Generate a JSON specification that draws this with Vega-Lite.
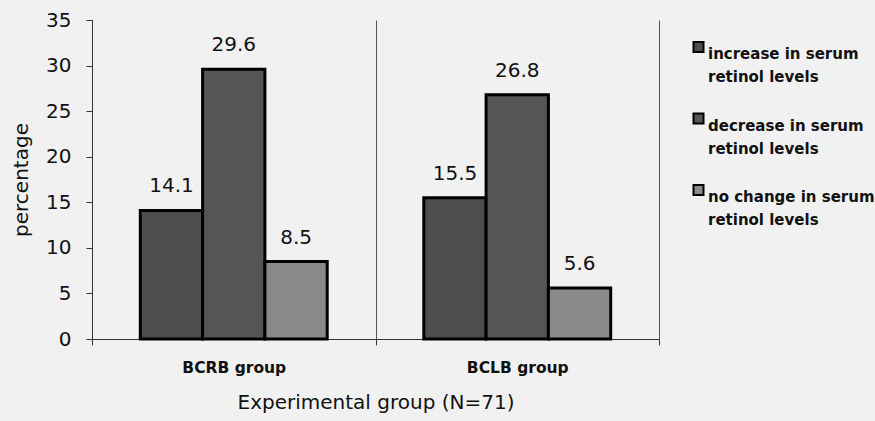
{
  "$schema": "https://vega.github.io/schema/vega-lite/v6.json",
  "width": 567,
  "height": 319,
  "autosize": {"type": "none"},
  "padding": {"left": 92, "top": 20, "right": 216, "bottom": 82},
  "background": "#f1f1f1",
  "config": {
    "view": {"stroke": null},
    "font": "DejaVu Sans",
    "style": {"guide-label": {"lineHeight": 23}}
  },
  "data": {
    "values": [
      {"group": "BCRB group", "change": "increase in serum retinol levels", "pct": 14.1},
      {"group": "BCRB group", "change": "decrease in serum retinol levels", "pct": 29.6},
      {"group": "BCRB group", "change": "no change in serum retinol levels", "pct": 8.5},
      {"group": "BCLB group", "change": "increase in serum retinol levels", "pct": 15.5},
      {"group": "BCLB group", "change": "decrease in serum retinol levels", "pct": 26.8},
      {"group": "BCLB group", "change": "no change in serum retinol levels", "pct": 5.6}
    ]
  },
  "encoding": {
    "x": {
      "field": "group",
      "type": "nominal",
      "sort": ["BCRB group", "BCLB group"],
      "scale": {"paddingInner": 0, "paddingOuter": 0},
      "title": "Experimental group (N=71)",
      "axis": {
        "labelAngle": 0,
        "labelFontSize": 15.5,
        "labelFontWeight": "bold",
        "labelColor": "#111",
        "labelPadding": 15,
        "tickBand": "extent",
        "ticks": true,
        "tickSize": 6,
        "tickColor": "#333",
        "domainColor": "#333",
        "grid": true,
        "gridColor": "#555",
        "gridOpacity": 1,
        "titleFontSize": 20,
        "titleFontWeight": "normal",
        "titleColor": "#111",
        "titlePadding": 17
      }
    },
    "xOffset": {
      "field": "change",
      "type": "nominal",
      "sort": ["increase in serum retinol levels", "decrease in serum retinol levels", "no change in serum retinol levels"],
      "scale": {"paddingInner": 0, "paddingOuter": 0.775}
    },
    "y": {
      "field": "pct",
      "type": "quantitative",
      "scale": {"domain": [0, 35], "nice": false},
      "title": "percentage",
      "axis": {
        "values": [0, 5, 10, 15, 20, 25, 30, 35],
        "grid": false,
        "labelFontSize": 20,
        "labelColor": "#111",
        "labelPadding": 15,
        "tickSize": 6,
        "tickColor": "#333",
        "domainColor": "#333",
        "titleFontSize": 20,
        "titleFontWeight": "normal",
        "titleColor": "#111",
        "titlePadding": 14
      }
    }
  },
  "layer": [
    {
      "mark": {"type": "bar", "stroke": "#000", "strokeWidth": 3},
      "encoding": {
        "color": {
          "field": "change",
          "type": "nominal",
          "sort": ["increase in serum retinol levels", "decrease in serum retinol levels", "no change in serum retinol levels"],
          "scale": {
            "domain": ["increase in serum retinol levels", "decrease in serum retinol levels", "no change in serum retinol levels"],
            "range": ["#4d4d4d", "#555555", "#8a8a8a"]
          },
          "legend": {
            "orient": "none",
            "legendX": 599,
            "legendY": 19.5,
            "title": null,
            "padding": 0,
            "labelFontSize": 15,
            "labelFontWeight": "bold",
            "labelColor": "#111",
            "labelLimit": 300,
            "labelOffset": 2,
            "labelBaseline": "top",
            "labelExpr": "[replace(datum.label, ' retinol levels', ''), 'retinol levels']",
            "symbolType": "square",
            "symbolSize": 100,
            "symbolStrokeColor": "#000",
            "symbolStrokeWidth": 2,
            "symbolOpacity": 1,
            "rowPadding": 23.5
          }
        }
      }
    },
    {
      "mark": {"type": "text", "baseline": "alphabetic", "dy": -18, "fontSize": 20, "color": "#111"},
      "encoding": {
        "text": {"field": "pct", "type": "quantitative", "format": ".1f"}
      }
    }
  ]
}
